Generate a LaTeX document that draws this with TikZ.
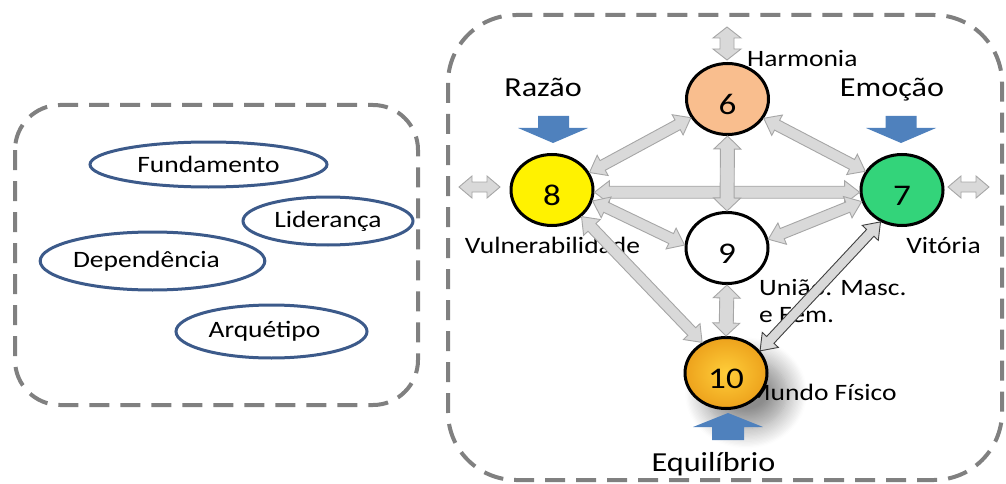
\documentclass[tikz,border=0pt]{standalone}
\usepackage{fontspec}
\setmainfont{Carlito}[FakeStretch=1.17]
\usetikzlibrary{calc,shapes.geometric,shadows.blur}
\definecolor{boxgray}{HTML}{808080}
\definecolor{ellblue}{HTML}{3C5A8A}
\definecolor{blockblue}{HTML}{4F81BD}
\definecolor{connfill}{HTML}{D9D9D9}
\definecolor{connline}{HTML}{A6A6A6}
\definecolor{peach}{HTML}{F9BE8E}
\definecolor{vgreen}{HTML}{33D47A}
\definecolor{goldA}{HTML}{FFCE3A}
\definecolor{goldB}{HTML}{EDA21C}
% #1 style, #2 start, #3 end, #4 shaft half width, #5 head half width, #6 head length
\newcommand\biarrow[6]{%
  \coordinate (ba1) at ($(#2)!#6!(#3)$);
  \coordinate (bb1) at ($(#3)!#6!(#2)$);
  \path[#1] (#2) -- ($(ba1)!#5!90:(#3)$) -- ($(ba1)!#4!90:(#3)$)
    -- ($(bb1)!#4!-90:(#2)$) -- ($(bb1)!#5!-90:(#2)$) -- (#3)
    -- ($(bb1)!#5!90:(#2)$) -- ($(bb1)!#4!90:(#2)$)
    -- ($(ba1)!#4!-90:(#3)$) -- ($(ba1)!#5!-90:(#3)$) -- cycle;}
\begin{document}
\begin{tikzpicture}[x=1pt,y=-1pt,
  dashbox/.style={draw=boxgray, line width=4pt, dash pattern=on 20pt off 11pt},
  concept/.style={ellipse, draw=ellblue, line width=3pt, inner sep=0pt,
    font=\fontsize{23.5}{28}\selectfont},
  numcircle/.style={ellipse, draw=black, line width=3pt, minimum width=82pt,
    minimum height=71pt, inner sep=0pt, text height=31pt, text depth=0pt,
    font=\fontsize{30}{36}\selectfont},
  lbl/.style={font=\fontsize{23.5}{28}\selectfont, inner sep=0pt},
  biglbl/.style={font=\fontsize{27.5}{32}\selectfont, inner sep=0pt},
  conn/.style={fill=connfill, draw=connline, line width=0.9pt, line join=miter},
  darkconn/.style={fill=connfill, draw=black!75, line width=0.9pt, line join=miter},
  blockarr/.style={fill=blockblue, draw=none}]
\useasboundingbox (0,0) rectangle (1006,484);

% dashed frames
\draw[dashbox, rounded corners=45pt] (15,105) rectangle (418,405);
\draw[dashbox, rounded corners=68pt] (448,15) rectangle (1002,480);
% labels
\node[lbl, anchor=base west] (harm) at (747,67) {Harmonia};
\node[biglbl, anchor=base] (raz) at (543,97) {Razão};
\node[biglbl, anchor=base] (emo) at (892,97) {Emoção};
\node[lbl, anchor=base] (vul) at (552.5,253) {Vulnerabilidade};
\node[lbl, anchor=base] (vit) at (943.5,253) {Vitória};
\node[lbl, anchor=base west] (uni) at (759,295) {União. Masc.};
\node[lbl, anchor=base west] (fem) at (759,322) {e Fem.};

% left concepts
\node[concept, minimum width=237pt, minimum height=45pt] (fund) at (208.5,164.5) {Fundamento};
\node[concept, minimum width=170pt, minimum height=48pt] (lid) at (328,221) {Liderança};
\node[concept, minimum width=215pt, minimum height=58pt] (dep) at (152.5,261) {Dependência\hspace*{12pt}};
\node[concept, minimum width=191pt, minimum height=53pt] (arq) at (271.5,331.5) {Arquétipo\hspace*{14pt}};

% shadow of circle 10 (drawn before the label so the text stays crisp)
\fill[black, opacity=0.0,
  blur shadow={shadow xshift=20pt, shadow yshift=-20pt, shadow blur radius=20pt,
  shadow blur steps=16, shadow opacity=45}] (726,373) ellipse [x radius=41pt, y radius=35.5pt];
\node[lbl, anchor=base west] (mun) at (747,400) {Mundo Físico};
\node[biglbl, anchor=base] (equ) at (713.5,471) {Equilíbrio};

% numbered circles
\node[numcircle, fill=peach] (n6) at (727.5,99) {6};
\node[numcircle, fill=yellow] (n8) at (552,190) {8};
\node[numcircle, fill=vgreen] (n7) at (902,190) {7};
\node[numcircle, fill=white] (n9) at (727,248) {9};
\node[numcircle, shading=radial, inner color=goldA, outer color=goldB] (n10) at (726,373) {10};

% blue block arrows
\path[blockarr] (538,116) -- (569,116) -- (569,128) -- (588,128) -- (553,143) -- (518,128) -- (538,128) -- cycle;
\path[blockarr] (885.5,116) -- (916.5,116) -- (916.5,128) -- (936,128) -- (901,143) -- (866,128) -- (885.5,128) -- cycle;
\path[blockarr] (712,440) -- (744,440) -- (744,427) -- (763,427) -- (728,413) -- (693,427) -- (712,427) -- cycle;

% free double arrows
\coordinate (t1) at (727,27); \coordinate (t2) at (727,60);
\coordinate (l1) at (459,187); \coordinate (l2) at (500,187);
\coordinate (r1) at (948,187); \coordinate (r2) at (989,187);
\biarrow{conn}{t1}{t2}{7pt}{14pt}{11pt}
\biarrow{conn}{l1}{l2}{5pt}{11pt}{13pt}
\biarrow{conn}{r1}{r2}{5pt}{11pt}{13pt}

% connectors
\biarrow{conn}{n8.25}{n6.207}{5.5pt}{11.5pt}{15pt}
\biarrow{conn}{n6.332}{n7.153}{5.5pt}{11.5pt}{15pt}
\biarrow{conn}{n8.357}{n7.183}{6pt}{11.5pt}{15pt}
\biarrow{conn}{n6.south}{n9.north}{7pt}{13.5pt}{13pt}
\biarrow{conn}{n8.345}{n9.176}{5.5pt}{11.5pt}{15pt}
\biarrow{conn}{n9.12}{n7.196}{5.5pt}{11.5pt}{15pt}
\biarrow{conn}{n8.318}{n10.128}{5.5pt}{11.5pt}{15pt}
\biarrow{conn}{n9.south}{n10.north}{7pt}{13.5pt}{13pt}
\biarrow{darkconn}{n7.236}{n10.33}{5pt}{11pt}{15pt}
\end{tikzpicture}
\end{document}
